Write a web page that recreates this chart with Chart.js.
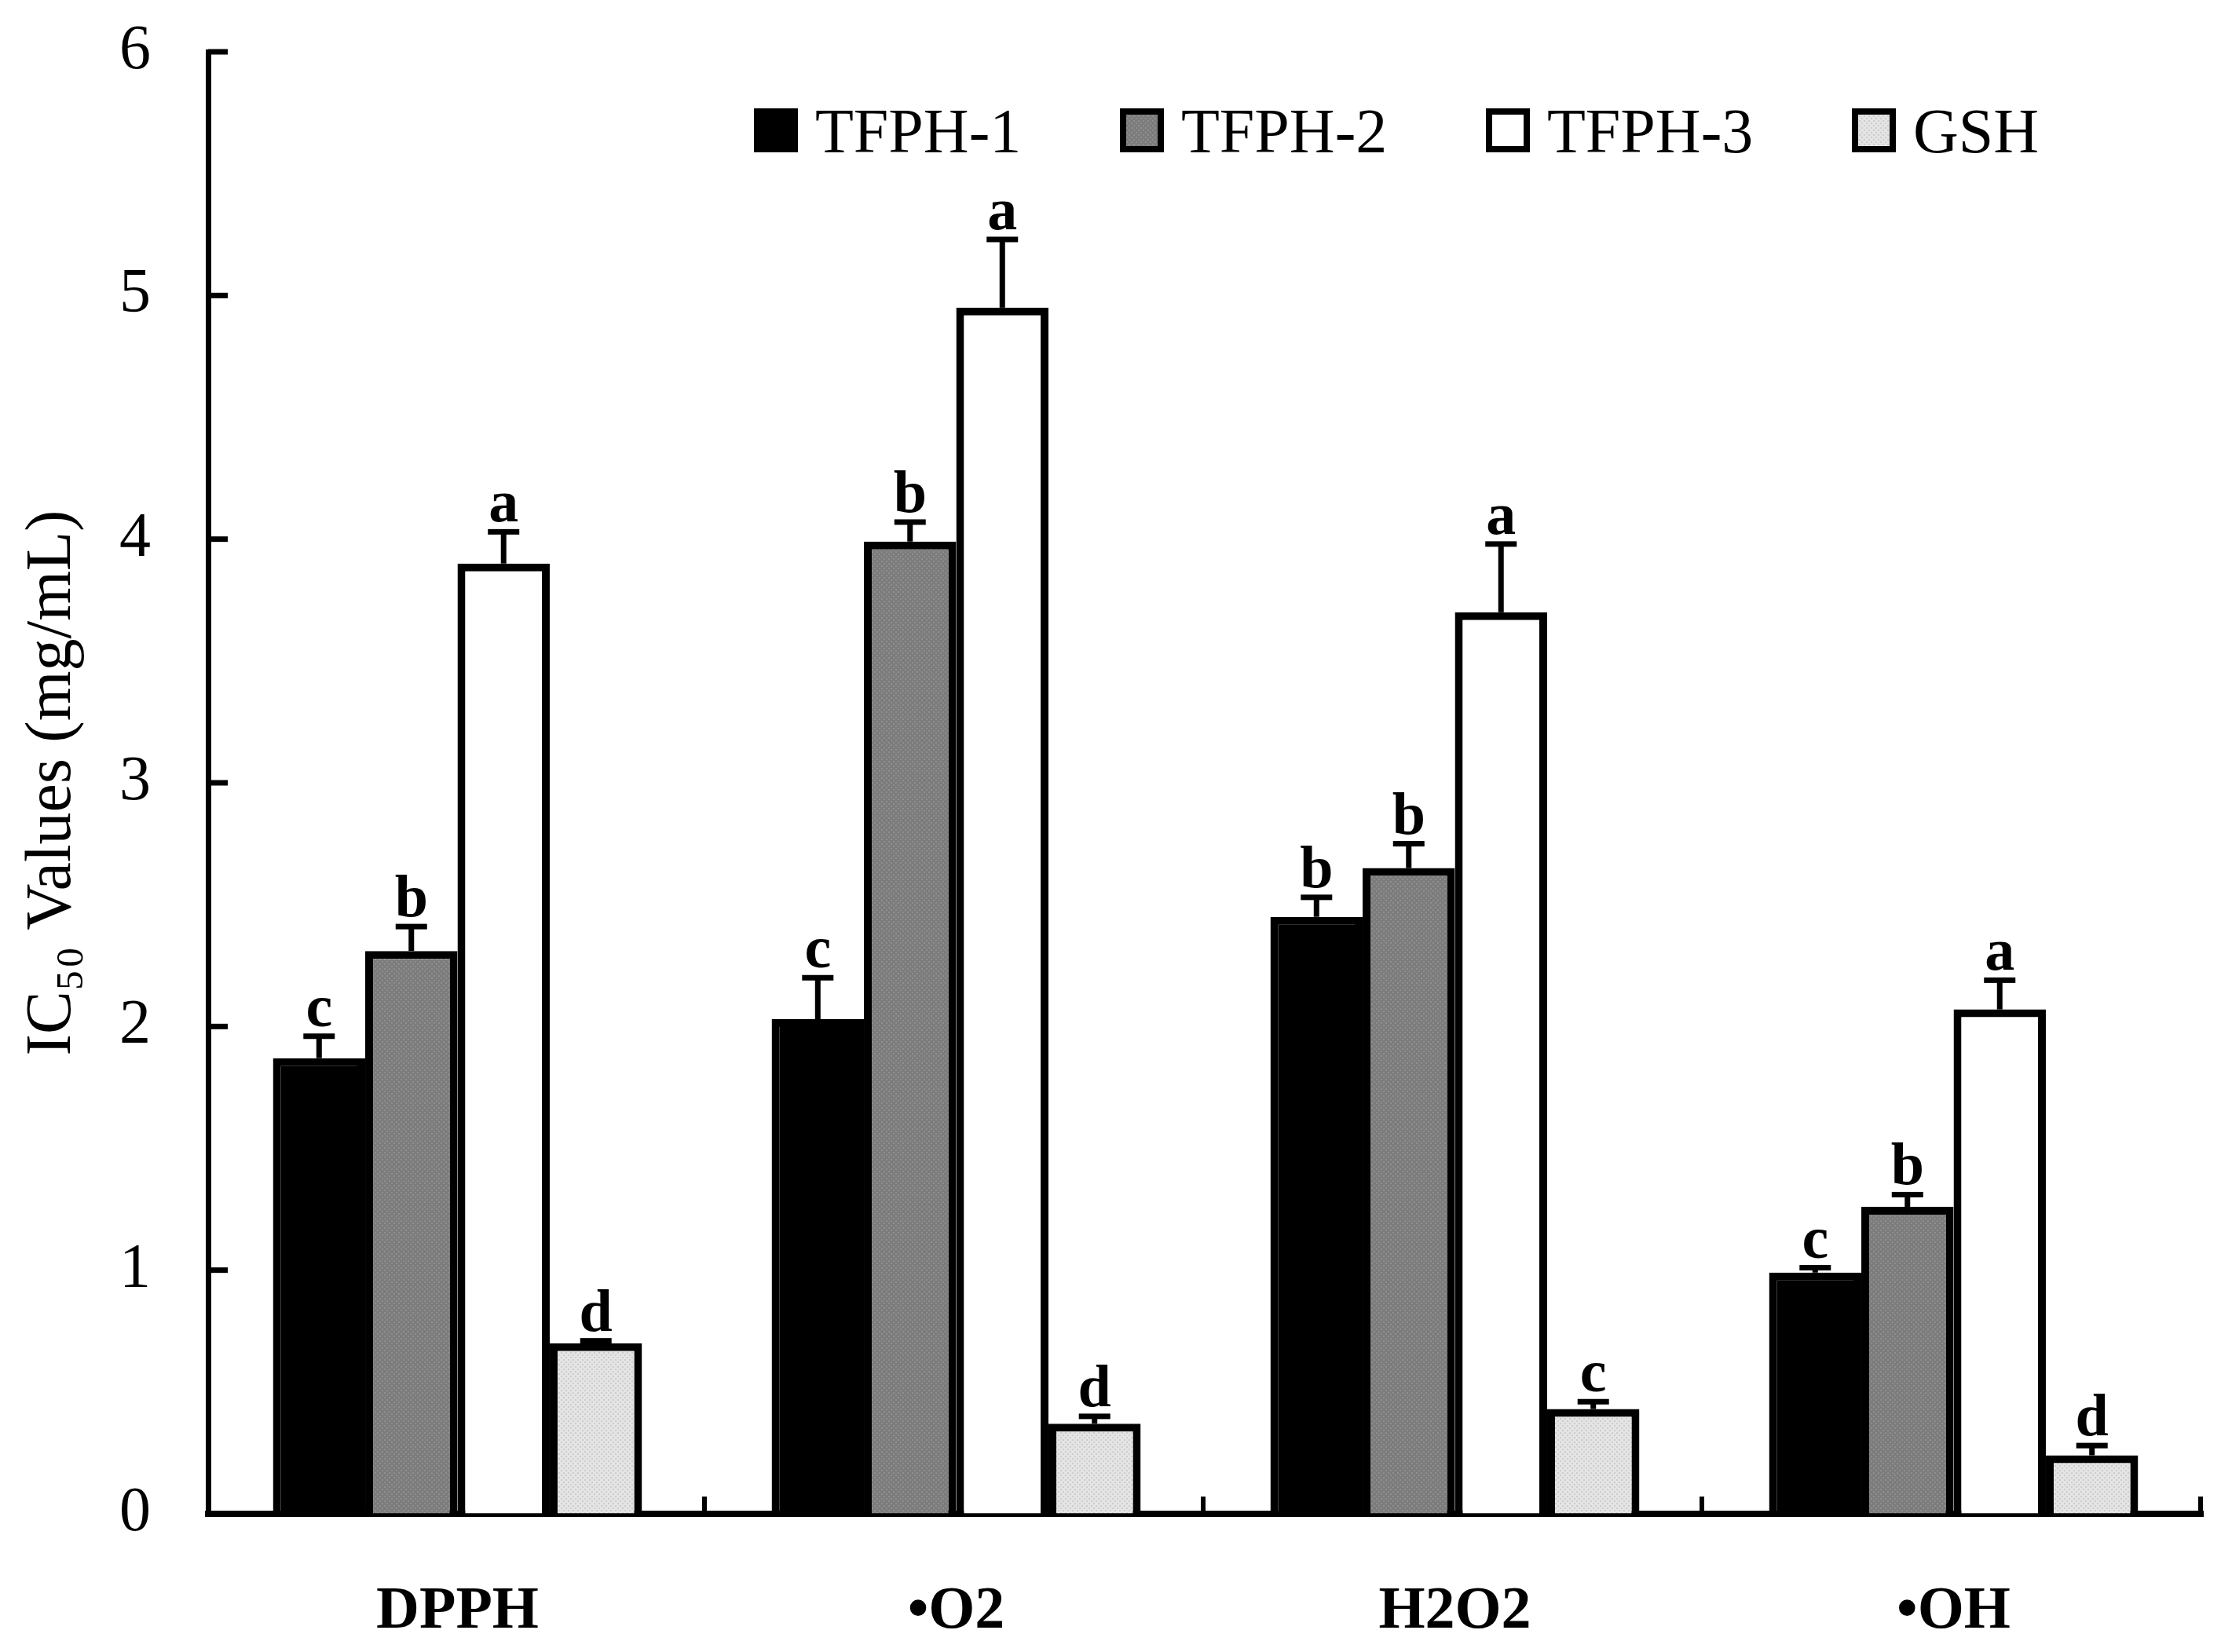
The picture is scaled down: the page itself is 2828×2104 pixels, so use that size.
<!DOCTYPE html>
<html><head><meta charset="utf-8">
<script src="https://cdn.jsdelivr.net/npm/chart.js@4.4.0/dist/chart.umd.min.js"></script>
<style>html,body{margin:0;padding:0;background:#fff}canvas{display:block}</style>
</head><body>
<canvas id="c" width="2828" height="2104" style="width:2828px;height:2104px"></canvas>
<script>
// ---- data ----
const categories = ['DPPH', '\u2022O2', 'H2O2', '\u2022OH'];
const seriesNames = ['TFPH-1', 'TFPH-2', 'TFPH-3', 'GSH'];
const tfph1 = [1.87, 2.03, 2.45, 0.99];
const tfph1Err = [0.09, 0.17, 0.08, 0.02];
const tfph1Letters = ['c', 'c', 'b', 'c'];
const tfph2 = [2.31, 3.99, 2.65, 1.26];
const tfph2Err = [0.10, 0.08, 0.10, 0.05];
const tfph2Letters = ['b', 'b', 'b', 'b'];
const tfph3 = [3.90, 4.95, 3.70, 2.07];
const tfph3Err = [0.13, 0.28, 0.28, 0.12];
const tfph3Letters = ['a', 'a', 'a', 'a'];
const gsh = [0.70, 0.37, 0.43, 0.24];
const gshErr = [0.01, 0.03, 0.03, 0.04];
const gshLetters = ['d', 'd', 'c', 'd'];
const yTicks = [0, 1, 2, 3, 4, 5, 6];
const yTitle = 'IC\u2085\u2080 Values (mg/mL)';

// ---- styling ----
const FONT = '"Liberation Serif", "Times New Roman", serif';
function makePattern(base, dot) {
  const p = document.createElement('canvas');
  p.width = 6; p.height = 6;
  const g = p.getContext('2d');
  g.fillStyle = base; g.fillRect(0, 0, 6, 6);
  g.fillStyle = dot;
  g.fillRect(0, 0, 2, 2); g.fillRect(3, 3, 2, 2);
  return g.createPattern(p, 'repeat');
}
const ctx0 = document.getElementById('c').getContext('2d');
const fills = ['#000000', makePattern('#7c7c7c', '#8e8e8e'), '#ffffff', makePattern('#e4e4e4', '#cdcdcd')];

function ds(label, data, errors, letters, fill) {
  return { label, data, errors, letters, backgroundColor: fill, borderColor: '#000', borderWidth: 10,
           borderSkipped: 'start', categoryPercentage: 0.74, barPercentage: 1.0 };
}

const extras = {
  id: 'extras',
  beforeDraw(chart) {
    const c = chart.ctx; c.save(); c.fillStyle = '#fff'; c.fillRect(0, 0, chart.width, chart.height); c.restore();
  },
  afterDatasetsDraw(chart) {
    const c = chart.ctx, y = chart.scales.y;
    c.save();
    chart.data.datasets.forEach((d, i) => {
      const meta = chart.getDatasetMeta(i);
      meta.data.forEach((bar, j) => {
        const v = d.data[j], e = d.errors[j];
        const yv = y.getPixelForValue(v), ye = y.getPixelForValue(v + e);
        c.fillStyle = '#000';
        c.fillRect(bar.x - 3.5, ye, 7, yv - ye);
        c.fillRect(bar.x - 20, ye - 3.5, 40, 7);
        c.font = 'bold 76px ' + FONT;
        c.textAlign = 'center'; c.textBaseline = 'alphabetic';
        c.fillText(d.letters[j], bar.x, ye - 13);
      });
    });
    c.restore();
  },
  afterDraw(chart) {
    const c = chart.ctx, y = chart.scales.y, x = chart.scales.x, a = chart.chartArea;
    c.save();
    c.fillStyle = '#000';
    yTicks.forEach(v => { const py = y.getPixelForValue(v); c.fillRect(a.left, py - 3.5, 25, 7); });
    const half = (x.getPixelForValue(1) - x.getPixelForValue(0)) / 2;
    categories.forEach((_, i) => { const bx = x.getPixelForValue(i) + half; c.fillRect(Math.min(bx, a.right) - 6, a.bottom - 22, 6, 22); });
    // legend
    const start = 960, step = 466, top = 138, bs = 56;
    chart.data.datasets.forEach((d, i) => {
      const lx = start + i * step;
      c.fillStyle = d.backgroundColor; c.fillRect(lx, top, bs, bs);
      c.strokeStyle = '#000'; c.lineWidth = 8; c.strokeRect(lx + 4, top + 4, bs - 8, bs - 8);
      c.fillStyle = '#000'; c.font = '80px ' + FONT; c.textAlign = 'left'; c.textBaseline = 'alphabetic';
      c.fillText(d.label, lx + 78, top + bs);
    });
    c.restore();
  }
};

new Chart(ctx0, {
  type: 'bar',
  data: {
    labels: categories,
    datasets: [
      ds(seriesNames[0], tfph1, tfph1Err, tfph1Letters, fills[0]),
      ds(seriesNames[1], tfph2, tfph2Err, tfph2Letters, fills[1]),
      ds(seriesNames[2], tfph3, tfph3Err, tfph3Letters, fills[2]),
      ds(seriesNames[3], gsh, gshErr, gshLetters, fills[3])
    ]
  },
  options: {
    responsive: false, animation: false, devicePixelRatio: 1,
    layout: { padding: { top: 66, right: 23, left: 0, bottom: 0 } },
    plugins: { legend: { display: false }, tooltip: { enabled: false } },
    scales: {
      x: {
        z: 1,
        grid: { display: true, drawOnChartArea: false, drawTicks: false },
        border: { display: true, color: '#000', width: 8 },
        ticks: { color: '#000', font: { family: FONT, size: 76, weight: 'bold' }, padding: 80, maxRotation: 0 },
        afterFit(s) { s.height = 176; s.paddingLeft = 0; s.paddingRight = 0; }
      },
      y: {
        z: 1, min: 0, max: 6,
        afterBuildTicks(s) { s.ticks = yTicks.map(v => ({ value: v })); },
        grid: { display: true, drawOnChartArea: false, drawTicks: false },
        border: { display: true, color: '#000', width: 7 },
        ticks: { color: '#000', font: { family: FONT, size: 80 }, padding: 73 },
        title: { display: true, text: yTitle, color: '#000', font: { family: FONT, size: 82 }, padding: { top: 18, bottom: 0 } },
        afterFit(s) { s.width = 265; s.paddingTop = 0; s.paddingBottom = 0; }
      }
    }
  },
  plugins: [extras]
});
</script>
</body></html>
